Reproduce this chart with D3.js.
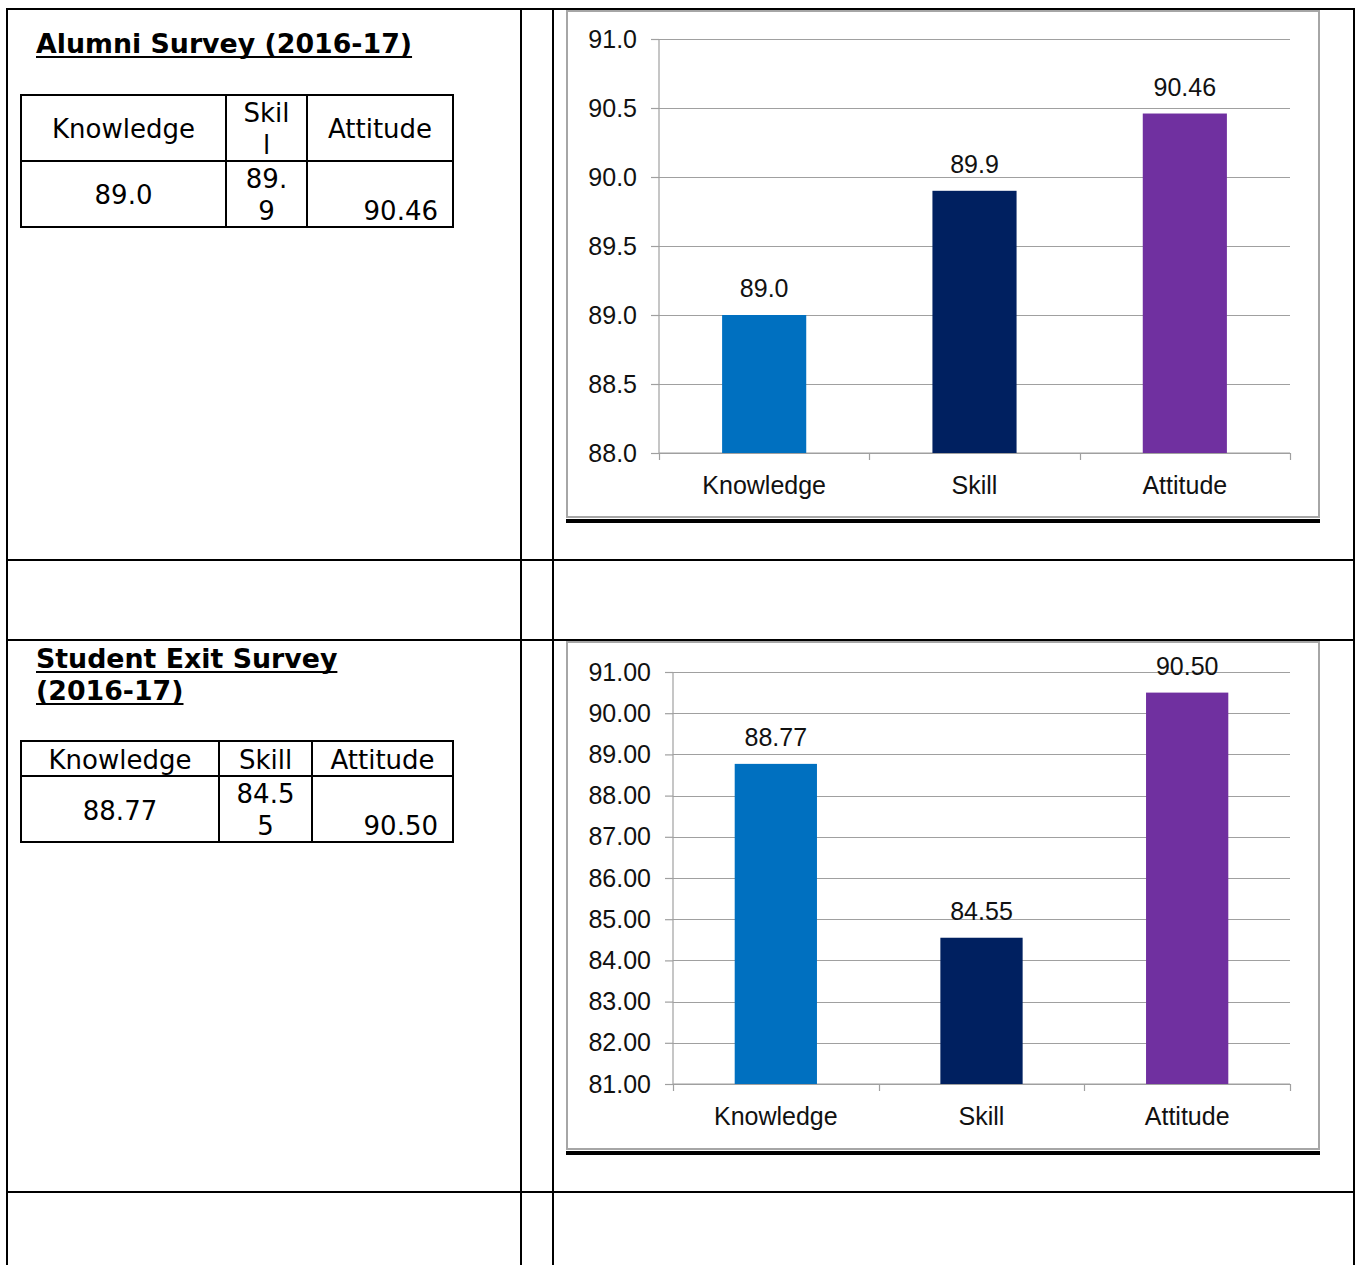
<!DOCTYPE html>
<html><head><meta charset="utf-8">
<script src="https://cdn.jsdelivr.net/npm/d3@7"></script>
<style>body{margin:0;background:#fff}svg{display:block}</style></head>
<body><svg id="c" width="1359" height="1265"></svg>
<script>
// ---- data ----
const categories = ["Knowledge", "Skill", "Attitude"];
const alumniValues = [89.0, 89.9, 90.46];
const alumniLabels = ["89.0", "89.9", "90.46"];
const exitValues = [88.77, 84.55, 90.50];
const exitLabels = ["88.77", "84.55", "90.50"];
const alumniTicks = [88.0, 88.5, 89.0, 89.5, 90.0, 90.5, 91.0];
const exitTicks = [81, 82, 83, 84, 85, 86, 87, 88, 89, 90, 91];
const barColors = ["#0070C0", "#002060", "#7030A0"];
const alumniTitle = ["Alumni Survey (2016-17)"];
const exitTitle = ["Student Exit Survey", "(2016-17)"];
// table cell text (wrapped as in the document)
const alumniHeader = [["Knowledge"], ["Skil", "l"], ["Attitude"]];
const alumniCells = [["89.0"], ["89.", "9"], ["90.46"]];
const exitHeader = [["Knowledge"], ["Skill"], ["Attitude"]];
const exitCells = [["88.77"], ["84.5", "5"], ["90.50"]];

const svg = d3.select("#c");
const BLACK = "#000";

// ---- outer document table ----
const outer = svg.append("g");
[7, 521, 553, 1354].forEach(x => outer.append("line").attr("x1", x).attr("x2", x).attr("y1", 8).attr("y2", 1265).attr("stroke", BLACK).attr("stroke-width", 2));
[9, 560, 640, 1192].forEach(y => outer.append("line").attr("x1", 6).attr("x2", 1355).attr("y1", y).attr("y2", y).attr("stroke", BLACK).attr("stroke-width", 2));

// ---- titles ----
function title(lines, x, y0, lh) {
  const g = svg.append("g");
  lines.forEach((t, i) => {
    const tx = g.append("text").attr("x", x).attr("y", y0 + i * lh)
      .attr("font-family", "DejaVu Sans, Verdana, sans-serif").attr("font-weight", "bold")
      .attr("font-size", 26.8).attr("fill", BLACK).text(t);
    const w = tx.node().getComputedTextLength();
    g.append("line").attr("x1", x).attr("x2", x + w).attr("y1", y0 + i * lh + 4).attr("y2", y0 + i * lh + 4)
      .attr("stroke", BLACK).attr("stroke-width", 2);
  });
}
title(alumniTitle, 36, 53, 32);
title(exitTitle, 36, 668, 32);

// ---- small data tables ----
function table(cfg) {
  const g = svg.append("g");
  const { xs, ys } = cfg;
  xs.forEach(x => g.append("line").attr("x1", x).attr("x2", x).attr("y1", ys[0] - 1).attr("y2", ys[ys.length - 1] + 1).attr("stroke", BLACK).attr("stroke-width", 2));
  ys.forEach(y => g.append("line").attr("x1", xs[0] - 1).attr("x2", xs[xs.length - 1] + 1).attr("y1", y).attr("y2", y).attr("stroke", BLACK).attr("stroke-width", 2));
  const rows = [cfg.header, cfg.cells];
  rows.forEach((row, r) => {
    row.forEach((lines, c) => {
      const spec = cfg.place[r][c];
      lines.forEach((t, i) => {
        g.append("text")
          .attr("x", spec.anchor === "end" ? xs[c + 1] - 15 : (xs[c] + xs[c + 1]) / 2)
          .attr("y", spec.y + i * cfg.lh)
          .attr("text-anchor", spec.anchor || "middle")
          .attr("font-family", "DejaVu Sans, Verdana, sans-serif").attr("font-size", 26)
          .attr("fill", BLACK).text(t);
      });
    });
  });
}
table({
  xs: [21, 226, 307, 453], ys: [95, 161, 227], lh: 32,
  header: alumniHeader, cells: alumniCells,
  place: [[{ y: 138 }, { y: 122 }, { y: 138 }], [{ y: 204 }, { y: 188 }, { y: 220, anchor: "end" }]]
});
table({
  xs: [21, 219, 312, 453], ys: [741, 776, 842], lh: 32,
  header: exitHeader, cells: exitCells,
  place: [[{ y: 769 }, { y: 769 }, { y: 769 }], [{ y: 820 }, { y: 803 }, { y: 835, anchor: "end" }]]
});

// ---- bar charts ----
function chart(cfg) {
  const g = svg.append("g");
  const F = "Liberation Sans, Arial, sans-serif";
  // frame + heavy bottom rule
  g.append("rect").attr("x", cfg.frame[0]).attr("y", cfg.frame[1])
    .attr("width", cfg.frame[2] - cfg.frame[0]).attr("height", cfg.frame[3] - cfg.frame[1])
    .attr("fill", "#fff").attr("stroke", "#a6a6a6").attr("stroke-width", 2);
  g.append("rect").attr("x", cfg.frame[0] - 1).attr("y", cfg.frame[3] + 2)
    .attr("width", cfg.frame[2] - cfg.frame[0] + 2).attr("height", 4).attr("fill", BLACK);

  const y = d3.scaleLinear().domain(cfg.domain).range([cfg.plot.y1, cfg.plot.y0]);
  const x = d3.scaleBand().domain(categories).range([cfg.plot.x0, cfg.plot.x1]).paddingInner(0.6).paddingOuter(0.3);

  // gridlines
  g.append("g").selectAll("line").data(cfg.ticks).join("line")
    .attr("x1", cfg.plot.x0).attr("x2", cfg.plot.x1)
    .attr("y1", d => Math.round(y(d)) + 0.5).attr("y2", d => Math.round(y(d)) + 0.5)
    .attr("stroke", "#a0a0a0").attr("stroke-width", 1.2);

  // y axis
  const ya = g.append("g").attr("transform", `translate(${cfg.plot.x0},0)`)
    .call(d3.axisLeft(y).tickValues(cfg.ticks).tickFormat(d3.format(cfg.fmt)).tickSize(8).tickPadding(cfg.pad));
  ya.selectAll("path,line").attr("stroke", "#a0a0a0").attr("stroke-width", 1.2);
  ya.select(".domain").attr("d", `M0,${cfg.plot.y0}V${cfg.plot.y1}`);
  ya.selectAll("text").attr("font-family", F).attr("font-size", 25).attr("fill", "#111");

  // x axis
  const xa = g.append("g").attr("transform", `translate(0,${cfg.plot.y1})`)
    .call(d3.axisBottom(x).tickSize(0).tickPadding(23));
  xa.select(".domain").attr("stroke", "#a0a0a0").attr("stroke-width", 1.2)
    .attr("d", `M${cfg.plot.x0},0H${cfg.plot.x1}`);
  xa.selectAll("text").attr("font-family", F).attr("font-size", 25).attr("fill", "#111");
  const bounds = categories.map(c => x(c) - x.step() * x.paddingInner() / 2).concat([cfg.plot.x1]);
  xa.append("g").selectAll("line").data(bounds).join("line")
    .attr("x1", d => Math.round(d) + 0.5).attr("x2", d => Math.round(d) + 0.5)
    .attr("y1", 0).attr("y2", 7).attr("stroke", "#a0a0a0").attr("stroke-width", 1.2);

  // bars
  g.append("g").selectAll("rect").data(cfg.values).join("rect")
    .attr("x", (d, i) => x(categories[i])).attr("width", x.bandwidth())
    .attr("y", d => y(d)).attr("height", d => cfg.plot.y1 - y(d))
    .attr("fill", (d, i) => barColors[i]);

  // value labels
  g.append("g").selectAll("text").data(cfg.values).join("text")
    .attr("x", (d, i) => x(categories[i]) + x.bandwidth() / 2)
    .attr("y", d => y(d) - 18).attr("text-anchor", "middle")
    .attr("font-family", F).attr("font-size", 25).attr("fill", "#111")
    .text((d, i) => cfg.labels[i]);
}

chart({
  frame: [567, 11, 1319, 517],
  plot: { x0: 659, x1: 1290, y0: 39, y1: 453 },
  domain: [88, 91], ticks: alumniTicks, fmt: ".1f", pad: 14,
  values: alumniValues, labels: alumniLabels
});
chart({
  frame: [567, 642, 1319, 1149],
  plot: { x0: 673, x1: 1290, y0: 672, y1: 1084 },
  domain: [81, 91], ticks: exitTicks, fmt: ".2f", pad: 14,
  values: exitValues, labels: exitLabels
});
</script></body></html>
